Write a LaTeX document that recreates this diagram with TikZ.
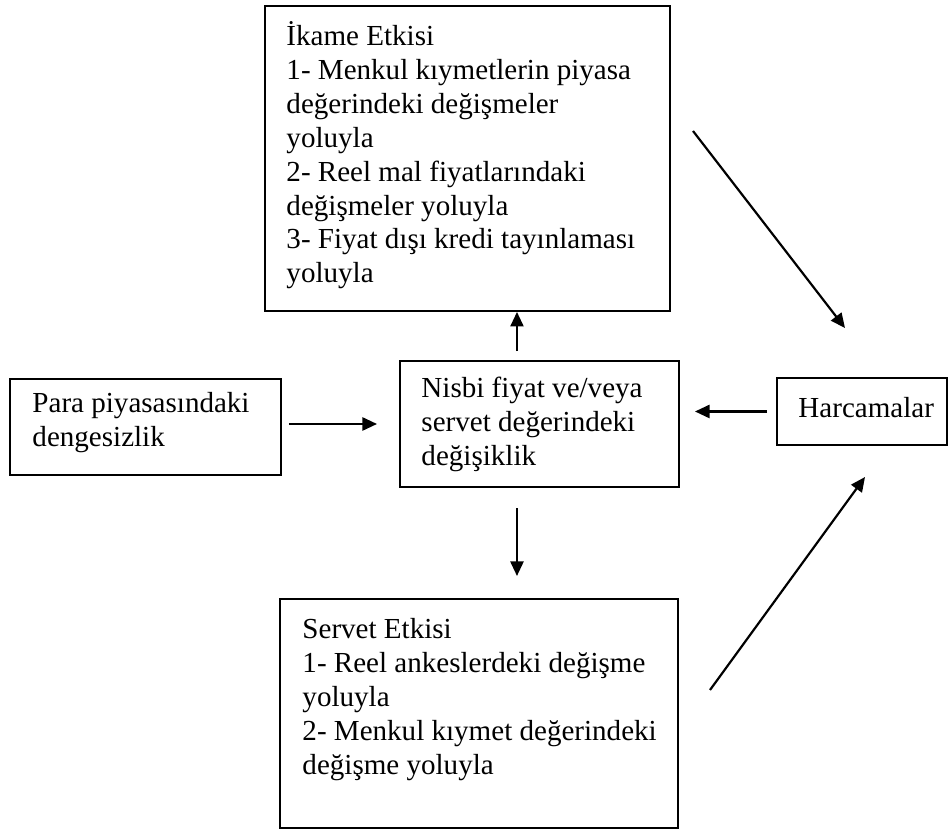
\documentclass[tikz,border=0pt]{standalone}
\usepackage{fontspec}
\setmainfont{Liberation Serif}
\usetikzlibrary{arrows.meta,fit}
% fixes the height of a first line so every text block starts at a known baseline
\newcommand\firststrut{\rule{0pt}{11pt}}

\begin{document}
\begin{tikzpicture}[x=0.413pt,y=-0.413pt,
  box/.style={draw, line width=0.8pt, inner sep=0pt},
  txt/.style={anchor=north west, inner sep=0pt, align=left,
              font=\fontsize{12pt}{14pt}\selectfont},
  arr/.style={line width=0.9pt, -{Triangle[length=6pt,width=5.4pt]}}]
\useasboundingbox (0,0) rectangle (950,830);

% boxes
\node[box, fit={(265,6) (670,311)}] (ikame) {};
\node[box, fit={(10,379) (281,475)}] (para) {};
\node[box, fit={(400,361) (679,487)}] (nisbi) {};
\node[box, fit={(777,378) (947,445)}] (harc) {};
\node[box, fit={(280,599) (678,828)}] (servet) {};

% texts
\node[txt] (ikameT) at (286,18.4) {\firststrut İkame Etkisi\\
  1- Menkul kıymetlerin piyasa\\
  değerindeki değişmeler\\
  yoluyla\\
  2- Reel mal fiyatlarındaki\\
  değişmeler yoluyla\\
  3- Fiyat dışı kredi tayınlaması\\
  yoluyla};
\node[txt] (paraT) at (32,385.4) {\firststrut Para piyasasındaki\\dengesizlik};
\node[txt] (nisbiT) at (421,370.4) {\firststrut Nisbi fiyat ve/veya\\servet değerindeki\\değişiklik};
\node[txt] (harcT) at (798,390.4) {\firststrut Harcamalar};
\node[txt] (servetT) at (302,611.4) {\firststrut Servet Etkisi\\
  1- Reel ankeslerdeki değişme\\
  yoluyla\\
  2- Menkul kıymet değerindeki\\
  değişme yoluyla};

% connectors
\draw[arr, shorten <=2.9pt, shorten >=9.1pt] (para.east |- nisbi.west) -- (nisbi.west);
\draw[arr, shorten <=3.7pt] ([xshift=-9.3pt]nisbi.north) -- ([xshift=-9.3pt]nisbi.north |- ikame.south);
\draw[arr, shorten <=8.3pt, shorten >=9.1pt] ([xshift=-9.3pt]nisbi.south) -- ([xshift=-9.3pt]nisbi.south |- servet.north);
\draw[arr, shorten <=3.7pt, shorten >=6.2pt] (harc.west) -- (harc.west -| nisbi.east);

\coordinate (topdiagA) at (693,131);
\coordinate (topdiagB) at (845,328);
\coordinate (botdiagA) at (710,690);
\coordinate (botdiagB) at (865,477);
\draw[arr] (topdiagA) -- (topdiagB);
\draw[arr] (botdiagA) -- (botdiagB);
\end{tikzpicture}
\end{document}
